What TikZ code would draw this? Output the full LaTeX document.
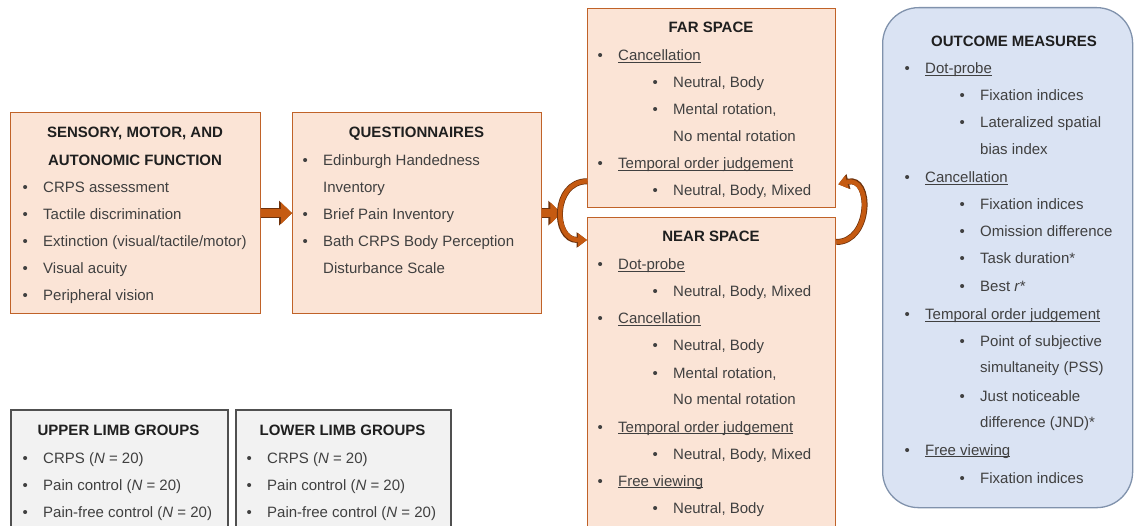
\documentclass[tikz,border=0pt]{standalone}
\usepackage{fontspec}
\setmainfont{Liberation Sans}
\usetikzlibrary{arrows.meta}

\definecolor{peach}{RGB}{251,228,214}
\definecolor{rust}{RGB}{192,98,40}
\definecolor{arrorange}{RGB}{197,90,17}
\definecolor{arrdark}{RGB}{110,50,12}
\definecolor{skyfill}{RGB}{218,227,243}
\definecolor{skyline}{RGB}{128,146,172}
\definecolor{greyfill}{RGB}{242,242,242}
\definecolor{greyline}{RGB}{80,80,80}
\definecolor{txtgrey}{RGB}{64,64,64}

\newcommand\bl{\makebox[20.5pt][l]{\textbullet}}
\newcommand\undl[1]{\setbox0\hbox{#1}\rlap{\rule[-2.2pt]{\wd0}{0.8pt}}\box0}

\begin{document}
\begin{tikzpicture}[x=1pt, y=-1pt, font=\fontsize{15}{18}\selectfont,
    obox/.style={draw=rust, line width=1.3pt, fill=peach, anchor=north west, inner sep=0pt},
    gbox/.style={draw=greyline, line width=1.8pt, fill=greyfill, anchor=north west, inner sep=0pt},
    tx/.style={anchor=base west, inner sep=0pt, text=txtgrey},
    ti/.style={anchor=base, inner sep=0pt, font=\fontsize{15}{18}\selectfont\bfseries, text=black!88},
    bigarr/.style={draw=arrorange, line width=8pt, -{Triangle[length=11pt,width=21pt]},
        preaction={draw=arrdark, line width=10pt, -{Triangle[length=13pt,width=24pt]}}},
    curarr/.style={draw=arrorange, line width=4.5pt, -{Triangle[length=9pt,width=13pt]},
        preaction={draw=arrdark, line width=6pt, -{Triangle[length=10.5pt,width=15pt]}}}]
                      \path[use as bounding box, clip] (0,0) rectangle (1135,526);

                      \node[obox, minimum width=250pt, minimum height=201pt] (sens) at (10,112) {};
                      \node[obox, minimum width=249pt, minimum height=201pt] (quest) at (292,112) {};
                      \node[obox, minimum width=248pt, minimum height=199pt] (far) at (587,8) {};
                      \node[obox, minimum width=248pt, minimum height=330pt] (near) at (587,217) {};
                      \node[draw=skyline, line width=1.3pt, fill=skyfill, rounded corners=36pt, anchor=north west,
                            minimum width=250pt, minimum height=500pt, inner sep=0pt] (outc) at (882,7) {};
                      \node[gbox, minimum width=217pt, minimum height=130pt] (upper) at (10,409) {};
                      \node[gbox, minimum width=215pt, minimum height=130pt] (lower) at (235,409) {};

                      \node[ti] (s0) at (135,138) {SENSORY, MOTOR, AND};
                      \node[ti] (s1) at (135,166) {AUTONOMIC FUNCTION};
                      \node[tx] (s2) at (22.5,193) {\bl CRPS assessment};
                      \node[tx] (s3) at (22.5,220) {\bl Tactile discrimination};
                      \node[tx] (s4) at (22.5,247) {\bl Extinction (visual/tactile/motor)};
                      \node[tx] (s5) at (22.5,274) {\bl Visual acuity};
                      \node[tx] (s6) at (22.5,301) {\bl Peripheral vision};

                      \node[ti] (q0) at (416.5,138) {QUESTIONNAIRES};
                      \node[tx] (q1) at (302.5,166) {\bl Edinburgh Handedness};
                      \node[tx] (q2) at (323,193) {Inventory};
                      \node[tx] (q3) at (302.5,220) {\bl Brief Pain Inventory};
                      \node[tx] (q4) at (302.5,247) {\bl Bath CRPS Body Perception};
                      \node[tx] (q5) at (323,274) {Disturbance Scale};

                      \node[ti] (f0) at (711,33) {FAR SPACE};
                      \node[tx] (f1) at (597.5,61) {\bl\undl{Cancellation}};
                      \node[tx] (f2) at (652.5,88) {\bl Neutral, Body};
                      \node[tx] (f3) at (652.5,115) {\bl Mental rotation,};
                      \node[tx] (f4) at (673,142) {No mental rotation};
                      \node[tx] (f5) at (597.5,169) {\bl\undl{Temporal order judgement}};
                      \node[tx] (f6) at (652.5,196) {\bl Neutral, Body, Mixed};

                      \node[ti] (n0) at (711,242) {NEAR SPACE};
                      \node[tx] (n1) at (597.5,270) {\bl\undl{Dot-probe}};
                      \node[tx] (n2) at (652.5,297) {\bl Neutral, Body, Mixed};
                      \node[tx] (n3) at (597.5,324) {\bl\undl{Cancellation}};
                      \node[tx] (n4) at (652.5,351) {\bl Neutral, Body};
                      \node[tx] (n5) at (652.5,378) {\bl Mental rotation,};
                      \node[tx] (n6) at (673,405) {No mental rotation};
                      \node[tx] (n7) at (597.5,432) {\bl\undl{Temporal order judgement}};
                      \node[tx] (n8) at (652.5,459) {\bl Neutral, Body, Mixed};
                      \node[tx] (n9) at (597.5,486) {\bl\undl{Free viewing}};
                      \node[tx] (n10) at (652.5,513) {\bl Neutral, Body};

                      \node[ti] (o0) at (1014,47) {OUTCOME MEASURES};
                      \node[tx] (o1) at (904.5,74) {\bl\undl{Dot-probe}};
                      \node[tx] (o2) at (959.5,101) {\bl Fixation indices};
                      \node[tx] (o3) at (959.5,128) {\bl Lateralized spatial};
                      \node[tx] (o4) at (980,155) {bias index};
                      \node[tx] (o5) at (904.5,183) {\bl\undl{Cancellation}};
                      \node[tx] (o6) at (959.5,210) {\bl Fixation indices};
                      \node[tx] (o7) at (959.5,237) {\bl Omission difference};
                      \node[tx] (o8) at (959.5,264) {\bl Task duration*};
                      \node[tx] (o9) at (959.5,292) {\bl Best \textit{r}*};
                      \node[tx] (o10) at (904.5,320) {\bl\undl{Temporal order judgement}};
                      \node[tx] (o11) at (959.5,347) {\bl Point of subjective};
                      \node[tx] (o12) at (980,373) {simultaneity (PSS)};
                      \node[tx] (o13) at (959.5,401) {\bl Just noticeable};
                      \node[tx] (o14) at (980,428) {difference (JND)*};
                      \node[tx] (o15) at (904.5,455) {\bl\undl{Free viewing}};
                      \node[tx] (o16) at (959.5,483) {\bl Fixation indices};

                      \node[ti] (u0) at (118.5,435) {UPPER LIMB GROUPS};
                      \node[tx] (u1) at (22.5,463) {\bl CRPS (\textit{N} = 20)};
                      \node[tx] (u2) at (22.5,490) {\bl Pain control (\textit{N} = 20)};
                      \node[tx] (u3) at (22.5,517) {\bl Pain-free control (\textit{N} = 20)};

                      \node[ti] (l0) at (342.5,435) {LOWER LIMB GROUPS};
                      \node[tx] (l1) at (246.5,463) {\bl CRPS (\textit{N} = 20)};
                      \node[tx] (l2) at (246.5,490) {\bl Pain control (\textit{N} = 20)};
                      \node[tx] (l3) at (246.5,517) {\bl Pain-free control (\textit{N} = 20)};

                      \coordinate (split) at ([xshift=19pt]quest.east);
                      \coordinate (fl) at ([yshift=27pt]far.south west);
                      \coordinate (nl) at ([yshift=-23pt]near.north west);
                      \coordinate (nr) at ([yshift=-25pt]near.north east);
                      \coordinate (fr) at ([xshift=2pt,yshift=24pt]far.south east);

                      \draw[bigarr] (sens.east) -- (quest.west);
                      \draw[bigarr] (quest.east) -- (split);
                      \draw[curarr] (fl) to[out=180, in=180, looseness=1.5] (nl);
                      \draw[curarr] (nr) to[out=0, in=15, looseness=1.55] (fr);
                  \end{tikzpicture}
\end{document}
